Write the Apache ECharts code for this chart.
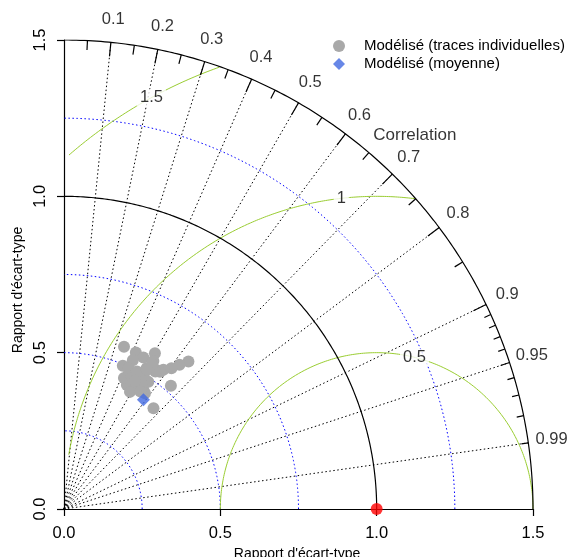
<!DOCTYPE html>
<html><head><meta charset="utf-8">
<script src="https://cdn.jsdelivr.net/npm/echarts@6/dist/echarts.min.js"></script>
<style>html,body{margin:0;padding:0;background:#fff}#c{width:572px;height:557px}</style>
</head><body><div id="c"></div>
<script>
const FONT = '"Liberation Sans", Arial, sans-serif';

// Individual traces (standard deviation ratio, correlation)
const traceSdRatio = [0.553,0.551,0.547,0.577,0.553,0.524,0.495,0.617,0.591,0.566,0.547,0.522,0.476,0.495,0.445,0.460,0.488,0.522,0.430,0.458,0.431,0.495,0.479,0.534,0.536,0.452,0.461,
  0.476,0.499,0.469,0.528,0.540,0.498,0.448,0.518,0.469];
const traceCorrelation = [0.347,0.417,0.464,0.504,0.517,0.420,0.380,0.645,0.625,0.607,0.581,0.506,0.433,0.481,0.452,0.504,0.553,0.655,0.491,0.555,0.664,0.416,0.507,0.554,0.573,0.573,0.416,
  0.456,0.511,0.531,0.553,0.520,0.468,0.545,0.512,0.486];
// Mean model
const meanSdRatio = [0.432];
const meanCorrelation = [0.588];
// Reference (observations)
const refSdRatio = [1.0];
const refCorrelation = [1.0];

const seriesNames = ['Modélisé (traces individuelles)', 'Modélisé (moyenne)'];
const corrLabelValues = [0.1,0.2,0.3,0.4,0.5,0.6,0.7,0.8,0.9,0.95,0.99];
const corrMedTicks = [0.05,0.15,0.25,0.35,0.45,0.55,0.65,0.75,0.85,0.95];
const corrSmallTicks = [0.91,0.92,0.93,0.94,0.96,0.97,0.98,0.99];
const sdBlueArcs = [0.25,0.5,0.75,1.25];
const sdBlackArcs = [1.0,1.5];
const rmsLevels = [0.5,1,1.5];
const rmsLabelText = ['0.5','1','1.5'];
const rmsLabelAngleDeg = [76,96.5,118.7];
const maxSd = 1.5;

function toXY(sd, corr){ return [sd*corr, sd*Math.sqrt(Math.max(0,1-corr*corr))]; }
function originArc(r){ const p=[]; for(let a=0;a<=90.001;a+=0.5){const t=a*Math.PI/180;p.push([r*Math.cos(t),r*Math.sin(t)]);} return p; }
function rmsArc(r){ const p=[]; for(let a=0;a<=180.001;a+=0.2){const t=a*Math.PI/180;const x=1+r*Math.cos(t),y=r*Math.sin(t); if(x>=0.015 && x*x+y*y<=maxSd*maxSd+1e-9) p.push([x,y]);} return p; }

const LBL = 16.5;
const series = [];
sdBlueArcs.forEach(r=>series.push({type:'line',data:originArc(r),showSymbol:false,silent:true,z:1,
  lineStyle:{color:'#0000ff',width:1,type:[1.5,2.5]}}));
sdBlackArcs.forEach(r=>series.push({type:'line',data:originArc(r),showSymbol:false,silent:true,z:2,
  lineStyle:{color:'#000',width:1.2}}));
rmsLevels.forEach(r=>series.push({type:'line',data:rmsArc(r),showSymbol:false,silent:true,z:1,
  lineStyle:{color:'#9acd32',width:1}}));
// radial correlation lines
series.push({type:'lines',coordinateSystem:'cartesian2d',silent:true,z:1,
  lineStyle:{color:'#000',width:1,type:[1.5,2.5],opacity:1},
  data:corrLabelValues.map(c=>({coords:[[0,0],toXY(maxSd,c)]}))});
// ticks on outer arc
const tickSeg=(c,f)=>({coords:[toXY(maxSd,c),toXY(maxSd*f,c)]});
series.push({type:'lines',coordinateSystem:'cartesian2d',silent:true,z:2,
  lineStyle:{color:'#000',width:1.2,opacity:1},
  data:[...corrLabelValues.slice(0,9).map(c=>tickSeg(c,0.97)),...corrMedTicks.map(c=>tickSeg(c,0.98)),...corrSmallTicks.map(c=>tickSeg(c,0.985))]});
// correlation labels
series.push({type:'scatter',symbolSize:0,silent:true,clip:false,z:3,
  data:corrLabelValues.map(c=>({value:toXY(maxSd*1.05,c),name:String(c)})),
  label:{show:true,position:'inside',formatter:'{b}',color:'#000',fontSize:LBL,fontFamily:FONT}});
series.push({type:'scatter',symbolSize:0,silent:true,clip:false,z:3,
  data:[{value:[1.122,1.196],name:'Correlation'}],
  label:{show:true,position:'inside',formatter:'{b}',color:'#000',fontSize:17,fontFamily:FONT}});
// RMS labels
series.push({type:'scatter',symbolSize:0,silent:true,clip:false,z:4,
  data:rmsLevels.map((r,i)=>{const t=rmsLabelAngleDeg[i]*Math.PI/180;return {value:[1+r*Math.cos(t),r*Math.sin(t)],name:rmsLabelText[i]};}),
  label:{show:true,position:'inside',formatter:'{b}',color:'#000',fontSize:LBL,fontFamily:FONT,backgroundColor:'#fff',padding:[0,3]}});
// data points
series.push({name:seriesNames[0],type:'scatter',symbol:'circle',symbolSize:12,z:5,
  itemStyle:{color:'#a9a9a9',opacity:1},
  data:traceSdRatio.map((s,i)=>toXY(s,traceCorrelation[i]))});
series.push({name:seriesNames[1],type:'scatter',symbol:'diamond',symbolSize:13,z:6,
  itemStyle:{color:'#4169e1'},
  data:meanSdRatio.map((s,i)=>toXY(s,meanCorrelation[i]))});
series.push({type:'scatter',symbol:'circle',symbolSize:12,z:7,clip:false,
  itemStyle:{color:'#ff0000'},
  data:refSdRatio.map((s,i)=>toXY(s,refCorrelation[i]))});

const axisCommon = {type:'value',min:0,max:1.5,interval:0.5,
  axisLine:{show:true,onZero:false,lineStyle:{color:'#000',width:1.2}},
  axisTick:{show:true,inside:false,length:7,lineStyle:{color:'#000',width:1.2}},
  splitLine:{show:false},
  axisLabel:{color:'#000',fontSize:LBL,fontFamily:FONT,formatter:v=>v.toFixed(1),showMinLabel:true,showMaxLabel:true}};

const chart = echarts.init(document.getElementById('c'),null,{renderer:'canvas'});
chart.setOption({
  animation:false,
  backgroundColor:'#fff',
  grid:{left:64,top:40,width:469,height:469},
  xAxis:Object.assign({},axisCommon,{axisLabel:Object.assign({},axisCommon.axisLabel,{margin:16})}),
  yAxis:Object.assign({},axisCommon,{axisLabel:Object.assign({},axisCommon.axisLabel,{margin:15,rotate:90})}),
  legend:{orient:'vertical',left:328,top:33,itemWidth:12,itemHeight:12,itemGap:2,
    data:[{name:seriesNames[0],icon:'circle'},{name:seriesNames[1],icon:'diamond'}],
    textStyle:{color:'#000',fontSize:15,fontFamily:FONT,lineHeight:16,padding:[0,0,0,14]}},
  graphic:[
    {type:'text',x:18,y:290,rotation:Math.PI/2,style:{text:"Rapport d'écart-type",fill:'#000',font:'14px '+FONT,align:'center',verticalAlign:'middle'}},
    {type:'text',x:297,y:554,style:{text:"Rapport d'écart-type",fill:'#000',font:'14px '+FONT,align:'center',verticalAlign:'middle'}}
  ],
  series:series
});
</script></body></html>
